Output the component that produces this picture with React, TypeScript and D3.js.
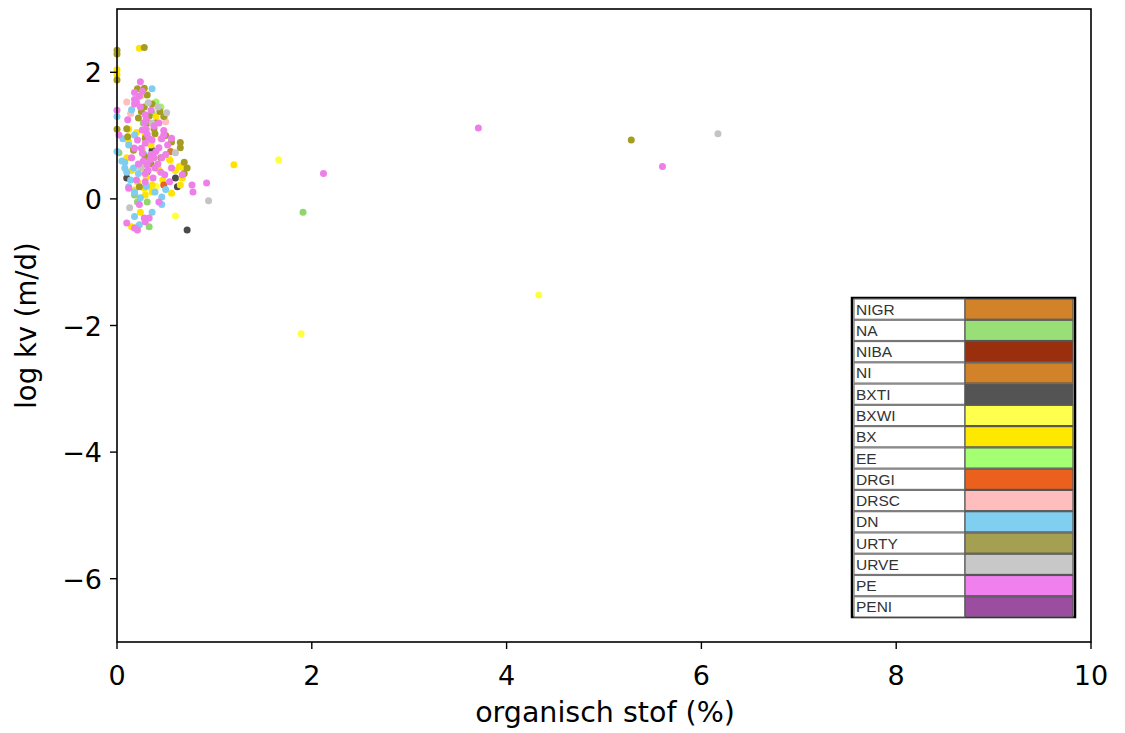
import React from "react";
import * as d3 from "d3";

const categories = ["NIGR","NA","NIBA","NI","BXTI","BXWI","BX","EE","DRGI","DRSC","DN","URTY","URVE","PE","PENI"];
const legendColors = ["#d2832a","#98df78","#992f0d","#d2832a","#545454","#ffff4d","#ffe800","#a5ff73","#ec601e","#ffbdbd","#80cff0","#a5a051","#c8c8c8","#f080ee","#9b4ea0"];
const pointColors = ["#d2832a","#8fd66c","#992f0d","#d2832a","#4a4a4a","#ffff40","#ffe400","#9cf56a","#ec601e","#ffbdbd","#7fcdf0","#a59d22","#c4c4c4","#ee7ee8","#9b4ea0"];

const xTicks = [0,2,4,6,8,10];
const yTicks = [-6,-4,-2,0,2];

// [organisch stof, log kv]
const NIGR: [number,number][] = [];
const NA: [number,number][] = [[0.36,1.36],[0.02,0.73],[0.18,0.06],[0.21,-0.05],[0.31,-0.05],[0.33,-0.44],[1.91,-0.21],[0.27,1.20]];
const NIBA: [number,number][] = [];
const NI: [number,number][] = [[0.17,0.80],[0.55,0.75]];
const BXTI: [number,number][] = [[0.36,0.77],[0.10,0.33],[0.31,0.43],[0.60,0.33],[0.72,-0.49],[0.62,0.19]];
const BXWI: [number,number][] = [[1.66,0.62],[1.89,-2.13],[4.33,-1.52],[0.60,-0.27],[0.40,0.20],[0.55,0.60]];
const BX: [number,number][] = [[0.23,2.38],[0.0,2.04],[0.0,1.96],[0.26,1.64],[0.29,1.01],[0.12,0.90],[0.26,0.77],[0.10,0.65],[0.54,0.62],[0.64,0.51],[0.24,0.49],[0.43,0.46],[0.67,0.33],[0.21,0.27],[0.36,0.22],[0.65,0.22],[0.28,0.17],[0.33,0.19],[0.18,0.14],[0.36,0.11],[0.56,0.09],[0.29,0.06],[0.24,-0.21],[0.15,-0.44],[0.21,-0.44],[1.20,0.54],[0.67,0.50],[0.20,1.05],[0.40,1.30],[0.30,0.35],[0.15,0.45],[0.47,0.30],[0.12,1.10],[0.35,0.85],[0.60,0.45]];
const EE: [number,number][] = [[0.40,1.53],[0.45,1.45]];
const DRGI: [number,number][] = [[0.48,0.22]];
const DRSC: [number,number][] = [[0.10,1.53],[0.49,1.30],[0.50,1.22],[0.45,0.95],[0.14,1.35]];
const DN: [number,number][] = [[0.36,1.74],[0.15,1.41],[0.18,1.01],[0.08,0.58],[0.17,0.49],[0.08,0.49],[0.12,0.19],[0.18,0.11],[0.39,0.11],[0.24,0.02],[0.46,0.03],[0.46,-0.09],[0.36,-0.21],[0.18,-0.28],[0.23,-0.41],[0.0,1.30],[0.0,0.75],[0.12,0.85],[0.22,0.40],[0.30,0.20],[0.50,0.15],[0.14,0.30],[0.28,0.70],[0.06,0.95],[0.05,0.60],[0.10,0.42]];
const URTY: [number,number][] = [[0.28,2.39],[0.0,2.29],[0.21,1.74],[0.28,1.75],[0.31,1.64],[0.28,1.45],[0.25,1.38],[0.44,1.38],[0.48,1.30],[0.33,1.31],[0.32,1.20],[0.38,1.11],[0.10,1.11],[0.39,1.03],[0.11,0.98],[0.29,0.96],[0.56,0.90],[0.65,0.89],[0.17,0.77],[0.29,0.66],[0.69,0.58],[0.72,0.49],[0.23,0.19],[0.65,0.81],[0.69,0.40],[5.28,0.93],[0.0,1.88],[0.0,1.10],[0.36,1.50],[0.40,1.20],[0.22,1.28],[0.50,1.00],[0.35,0.55],[0.45,0.65],[0.0,2.35]];
const URVE: [number,number][] = [[0.32,1.52],[0.51,1.36],[0.36,1.20],[0.60,0.73],[0.13,-0.14],[0.94,-0.03],[6.17,1.03],[0.42,1.45],[0.25,0.50]];
const PE: [number,number][] = [[0.24,1.85],[0.18,1.68],[0.18,1.57],[0.20,1.53],[0.18,1.50],[0.29,1.33],[0.11,1.25],[0.43,1.20],[0.28,1.20],[0.48,1.08],[0.26,1.09],[0.48,1.01],[0.56,0.96],[0.02,1.01],[0.21,0.93],[0.36,0.93],[0.46,0.95],[0.43,0.81],[0.38,0.65],[0.46,0.65],[0.31,0.54],[0.39,0.49],[0.56,0.49],[0.29,0.40],[0.49,0.38],[0.67,0.38],[0.29,0.27],[0.54,0.27],[0.77,0.22],[0.12,0.17],[0.43,-0.05],[0.23,-0.09],[0.28,-0.30],[0.33,-0.30],[0.10,-0.38],[0.29,-0.36],[0.18,-0.46],[0.21,-0.49],[0.92,0.25],[3.71,1.12],[5.60,0.51],[2.12,0.40],[0.78,0.11],[0.30,1.10],[0.33,0.95],[0.25,0.80],[0.35,0.70],[0.40,0.75],[0.27,0.60],[0.32,0.45],[0.22,0.55],[0.38,1.15],[0.30,1.25],[0.35,1.40],[0.24,1.45],[0.42,0.55],[0.20,0.30],[0.26,0.72],[0.34,0.62],[0.45,0.42],[0.37,0.33],[0.29,0.88],[0.31,1.02],[0.23,1.62],[0.26,1.70],[0.50,0.70],[0.52,0.85],[0.15,0.65],[0.18,0.80],[0.0,1.40]];
const PENI: [number,number][] = [];

const seriesData = [NIGR,NA,NIBA,NI,BXTI,BXWI,BX,EE,DRGI,DRSC,DN,URTY,URVE,PE,PENI];

export default function App() {
  const W = 1125, H = 733;
  const left = 117, right = 1091, top = 9, bottom = 642;
  const x = d3.scaleLinear().domain([0, 10]).range([left, right]);
  const y = d3.scaleLinear().domain([-7, 3]).range([bottom, top]);
  const fmt = (v: number) => (v < 0 ? "\u2212" + Math.abs(v) : String(v));

  const lgX = 852, lgY = 298, lgW = 223, lgH = 319, lgSplit = 965;
  const rowH = lgH / categories.length;

  return (
    <svg width={W} height={H} style={{ position: "absolute", left: 0, top: 0, background: "#fff" }}
      fontFamily="DejaVu Sans, sans-serif">
      <rect x={0} y={0} width={W} height={H} fill="#fff" />
      {seriesData.map((pts, ci) => (
        <g key={ci}>
          {pts.map((p, i) => (
            <circle key={i} cx={x(p[0])} cy={y(p[1])} r={3.5} fill={pointColors[ci]} />
          ))}
        </g>
      ))}
      <rect x={left} y={top} width={right - left} height={bottom - top} fill="none" stroke="#000" strokeWidth={1.6} />
      {xTicks.map(t => (
        <g key={t}>
          <line x1={x(t)} x2={x(t)} y1={bottom} y2={bottom + 7} stroke="#000" strokeWidth={1.4} />
          <text x={x(t)} y={bottom + 43} textAnchor="middle" fontSize={27} fill="#000">{fmt(t)}</text>
        </g>
      ))}
      {yTicks.map(t => (
        <g key={t}>
          <line x1={left - 7} x2={left} y1={y(t)} y2={y(t)} stroke="#000" strokeWidth={1.4} />
          <text x={left - 15} y={y(t) + 10} textAnchor="end" fontSize={27} fill="#000">{fmt(t)}</text>
        </g>
      ))}
      <text x={(left + right) / 2 + 1} y={722} textAnchor="middle" fontSize={28.5} fill="#000">organisch stof (%)</text>
      <text transform={`translate(36,${(top + bottom) / 2}) rotate(-90)`} textAnchor="middle" fontSize={27.5} fill="#000">log kv (m/d)</text>

      <g>
        <rect x={lgX} y={lgY} width={lgW} height={lgH} fill="#fff" stroke="#000" strokeWidth={2.5} />
        {categories.map((c, i) => (
          <g key={c}>
            <rect x={lgX + 2} y={lgY + i * rowH + 1} width={lgSplit - lgX - 2} height={rowH - 1} fill="#fff" stroke="#777" strokeWidth={1.2} />
            <rect x={lgSplit} y={lgY + i * rowH + 1} width={lgX + lgW - lgSplit - 2} height={rowH - 1} fill={legendColors[i]} stroke="#555" strokeWidth={1.2} />
            <text x={lgX + 4} y={lgY + i * rowH + rowH / 2 + 6} fontSize={15.5} fontFamily="Liberation Sans, Arial, sans-serif" fill="#333">{c}</text>
          </g>
        ))}
      </g>
    </svg>
  );
}
